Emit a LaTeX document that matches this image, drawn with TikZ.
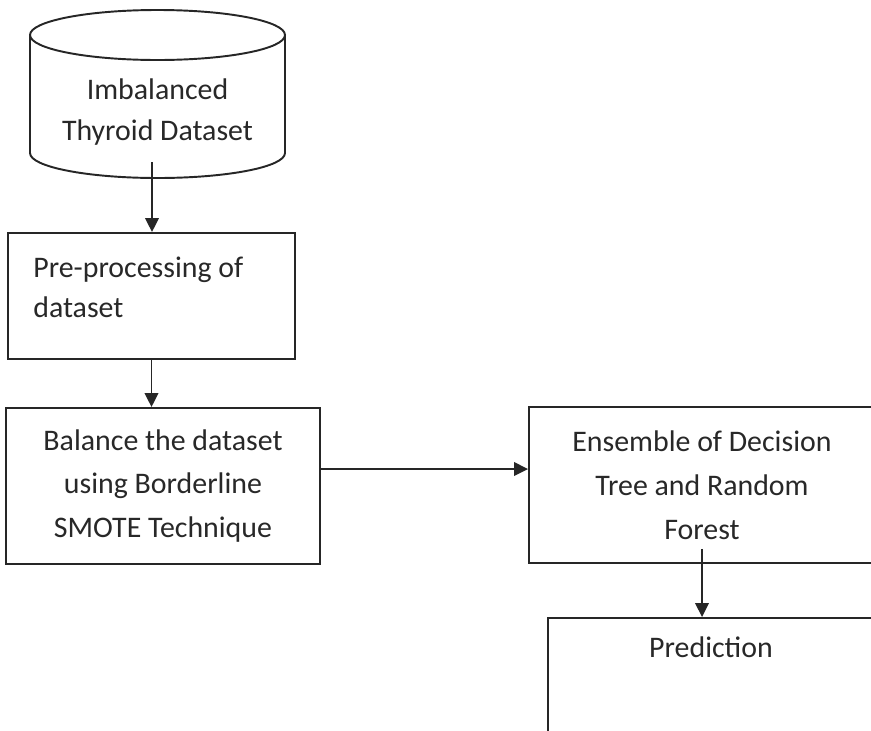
\documentclass[tikz,border=0pt]{standalone}
\usepackage{fontspec}
\setmainfont{Carlito}
\usepackage{tikz}
\usetikzlibrary{arrows.meta}

\definecolor{inkgray}{HTML}{282828}
\tikzset{
  blk/.style={draw=black!85, line width=1.1pt, text=inkgray, align=center},
  lbl/.style={text=inkgray, inner sep=0pt},
  flow/.style={line width=1.1pt, draw=black!85, -{Triangle[width=0.27cm,length=0.28cm]}}
}

\begin{document}
\begin{tikzpicture}
\fontsize{17}{25}\selectfont
\useasboundingbox (0,0) rectangle (17.42,-14.6);
\clip (0,0) rectangle (17.42,-14.6);
% dataset drum
\draw[draw=black!85, line width=1.1pt] (0.6,-0.7) -- (0.6,-3.06) arc[start angle=180, end angle=360, x radius=2.55, y radius=0.5] -- (5.7,-0.7);
\draw[draw=black!85, line width=1.1pt] (3.15,-0.7) ellipse[x radius=2.55, y radius=0.5];
\node[lbl, align=center, font={\fontsize{17}{23}\selectfont}] (cyltxt) at (3.15,-2.24) {Imbalanced\\Thyroid Dataset};
\coordinate (cylout) at (3.04,-3.24);
\node[blk, rectangle, minimum width=5.74cm, minimum height=2.52cm] (pre) at (3.03,-5.92) {};
\node[lbl, align=left, anchor=west, font={\fontsize{17}{23}\selectfont}] (pretxt) at (0.66,-5.75) {Pre-processing of\\dataset};
\node[blk, rectangle, minimum width=6.28cm, minimum height=3.12cm] (bal) at (3.26,-9.72) {Balance the dataset\\using Borderline\\SMOTE Technique};
\node[blk, rectangle, minimum width=6.92cm, minimum height=3.12cm] (ens) at (14.04,-9.70) {Ensemble of Decision\\Tree and Random\\Forest};
\node[blk, rectangle, minimum width=6.52cm, minimum height=4cm] (pred) at (14.22,-14.36) {};
\node[lbl, anchor=base] (predtxt) at ([yshift=-0.8cm]pred.north) {Prediction};
\draw[flow] (cylout) -- (cylout |- pre.north); % into pre-processing
\draw[flow] (pre.south) -- (pre.south |- bal.north);
\draw[flow] ([yshift=0.34cm]bal.east) -- ([yshift=0.34cm]bal.east -| ens.west);
\draw[flow] ([yshift=0.3cm]ens.south) -- (ens.south |- pred.north);
\end{tikzpicture}
\end{document}
